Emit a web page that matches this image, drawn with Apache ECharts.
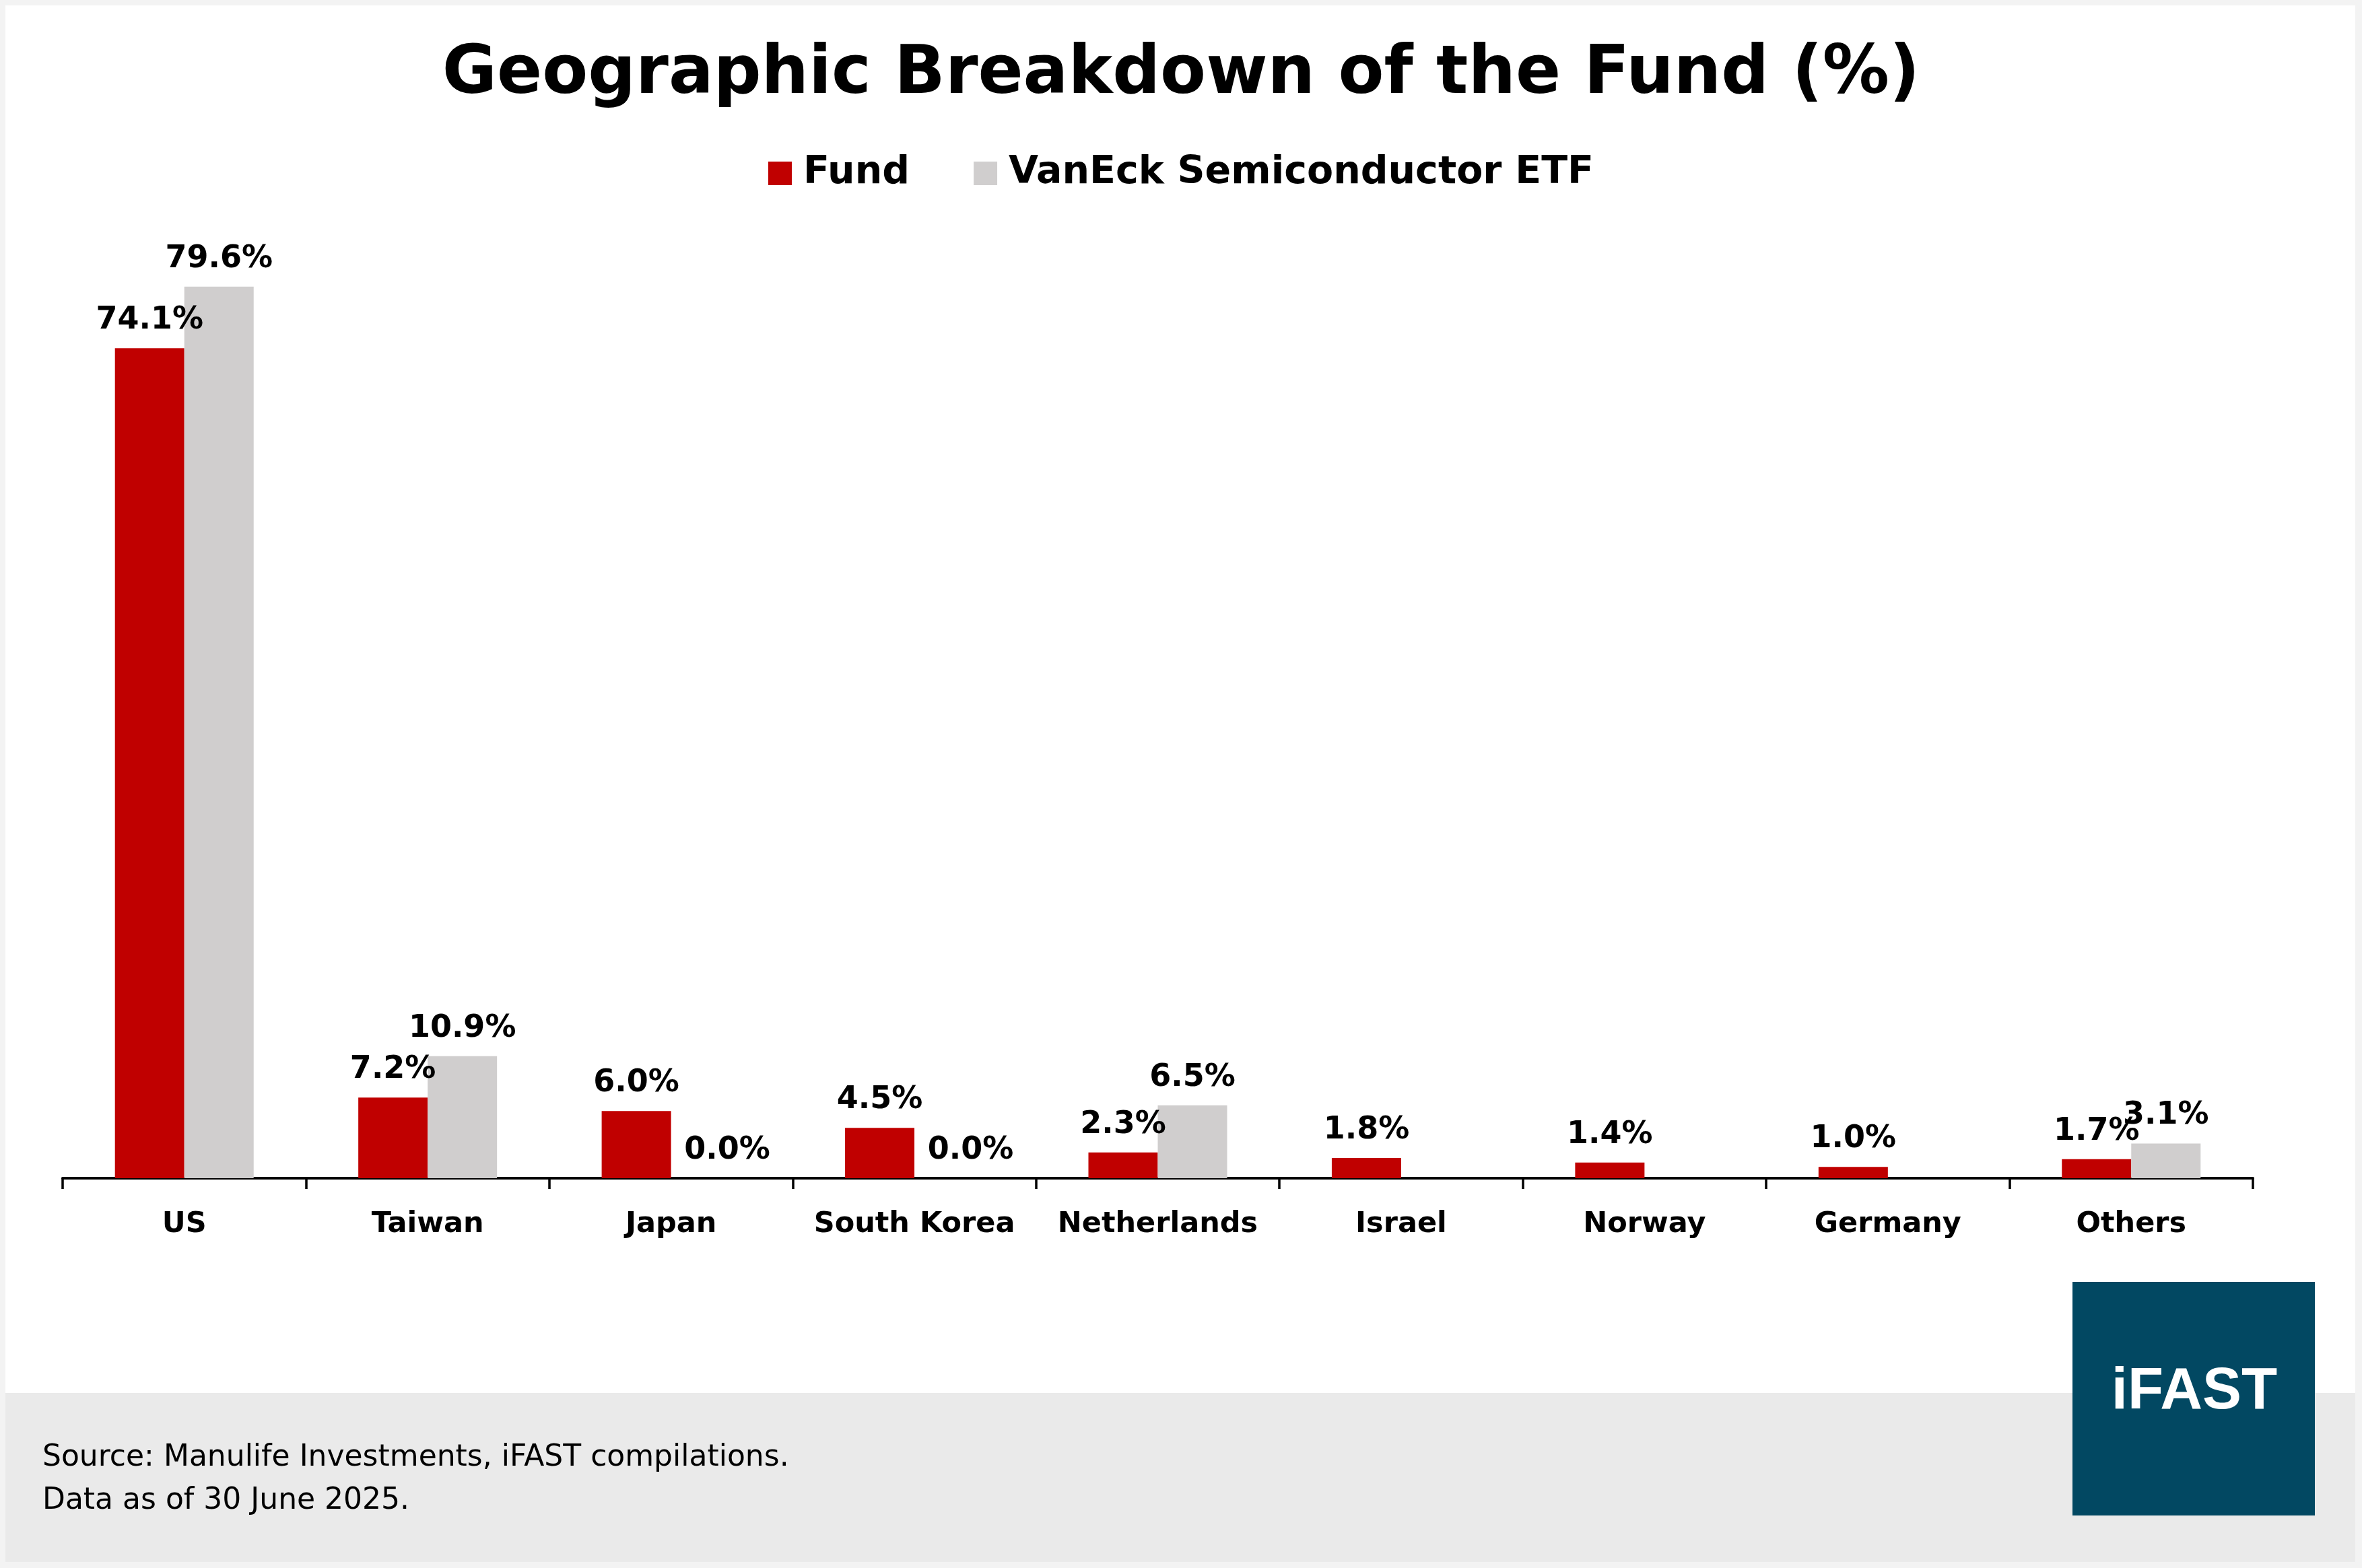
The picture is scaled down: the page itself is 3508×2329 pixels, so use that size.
<!DOCTYPE html>
<html>
<head>
<meta charset="utf-8">
<script src="https://cdn.jsdelivr.net/npm/echarts@6/dist/echarts.min.js"></script>
<style>
html,body{margin:0;padding:0;background:#f3f3f3;}
#chart{width:3508px;height:2329px;}
</style>
</head>
<body>
<div id="chart"></div>
<script>
var categories = ['US', 'Taiwan', 'Japan', 'South Korea', 'Netherlands', 'Israel', 'Norway', 'Germany', 'Others'];
var fundValues = [74.1, 7.2, 6.0, 4.5, 2.3, 1.8, 1.4, 1.0, 1.7];
var etfValues = [79.6, 10.9, 0.0, 0.0, 6.5, '-', '-', '-', 3.1];
var seriesNames = ['Fund', 'VanEck Semiconductor ETF'];
var sourceLines = ['Source: Manulife Investments, iFAST compilations.', 'Data as of 30 June 2025.'];

var FONT = 'DejaVu Sans';
var chart = echarts.init(document.getElementById('chart'), null, {renderer: 'canvas'});

function lab(p) {
  if (p.value === '-' || p.value === null || p.value === undefined) return '';
  return Number(p.value).toFixed(1) + '%';
}
function toItems(arr) {
  return arr.map(function (v) {
    if (v === 0) return {value: v, label: {offset: [32, 0]}};
    return v;
  });
}

var labelStyle = {show: true, position: 'top', distance: 18, formatter: lab, fontFamily: FONT, fontWeight: 'bold', fontSize: 46, color: '#000'};

var option = {
  backgroundColor: '#f3f3f3',
  animation: false,
  title: {
    text: 'Geographic Breakdown of the Fund (%)',
    left: 'center',
    top: 58,
    textStyle: {fontFamily: FONT, fontWeight: 'bold', fontSize: 99, color: '#000'}
  },
  legend: {
    data: seriesNames,
    left: 'center',
    top: 224,
    icon: 'rect',
    itemWidth: 35,
    itemHeight: 35,
    itemGap: 95,
    textStyle: {fontFamily: FONT, fontWeight: 'bold', fontSize: 57, color: '#000', padding: [0, 0, 0, 12]}
  },
  grid: {left: 93, right: 162, top: 419, bottom: 579, containLabel: false},
  xAxis: {
    type: 'category',
    data: categories,
    axisLine: {show: true, lineStyle: {color: '#000', width: 4}},
    axisTick: {show: true, length: 16, lineStyle: {color: '#000', width: 3.5}},
    axisLabel: {fontFamily: FONT, fontWeight: 'bold', fontSize: 43, color: '#000', margin: 47, interval: 0}
  },
  yAxis: {
    type: 'value',
    min: 0,
    max: 80,
    show: false,
    splitLine: {show: false}
  },
  graphic: [
    {type: 'rect', z: -100, silent: true, shape: {x: 8, y: 8, width: 3490, height: 2062}, style: {fill: '#ffffff'}},
    {type: 'rect', z: -100, silent: true, shape: {x: 8, y: 2069, width: 3490, height: 251}, style: {fill: '#eaeaea'}},
    {type: 'text', z: 100, x: 63, y: 2166, style: {text: sourceLines[0], fontFamily: FONT, fontSize: 44, fill: '#000', verticalAlign: 'middle', align: 'left'}},
    {type: 'text', z: 100, x: 63, y: 2230, style: {text: sourceLines[1], fontFamily: FONT, fontSize: 44, fill: '#000', verticalAlign: 'middle', align: 'left'}},
    {type: 'rect', z: 100, shape: {x: 3078, y: 1904, width: 360, height: 347}, style: {fill: '#024862'}},
    {type: 'text', z: 101, x: 3259, y: 2068, style: {text: 'iFAST', fontFamily: 'Liberation Sans', fontWeight: 'bold', fontSize: 87, fill: '#ffffff', align: 'center', verticalAlign: 'middle'}}
  ],
  series: [
    {
      name: seriesNames[0],
      type: 'bar',
      data: toItems(fundValues),
      barWidth: '28.5%',
      barGap: '0%',
      itemStyle: {color: '#c00000'},
      label: labelStyle
    },
    {
      name: seriesNames[1],
      type: 'bar',
      data: toItems(etfValues),
      barWidth: '28.5%',
      barGap: '0%',
      itemStyle: {color: '#d0cece'},
      label: labelStyle
    }
  ]
};
chart.setOption(option);
</script>
</body>
</html>
